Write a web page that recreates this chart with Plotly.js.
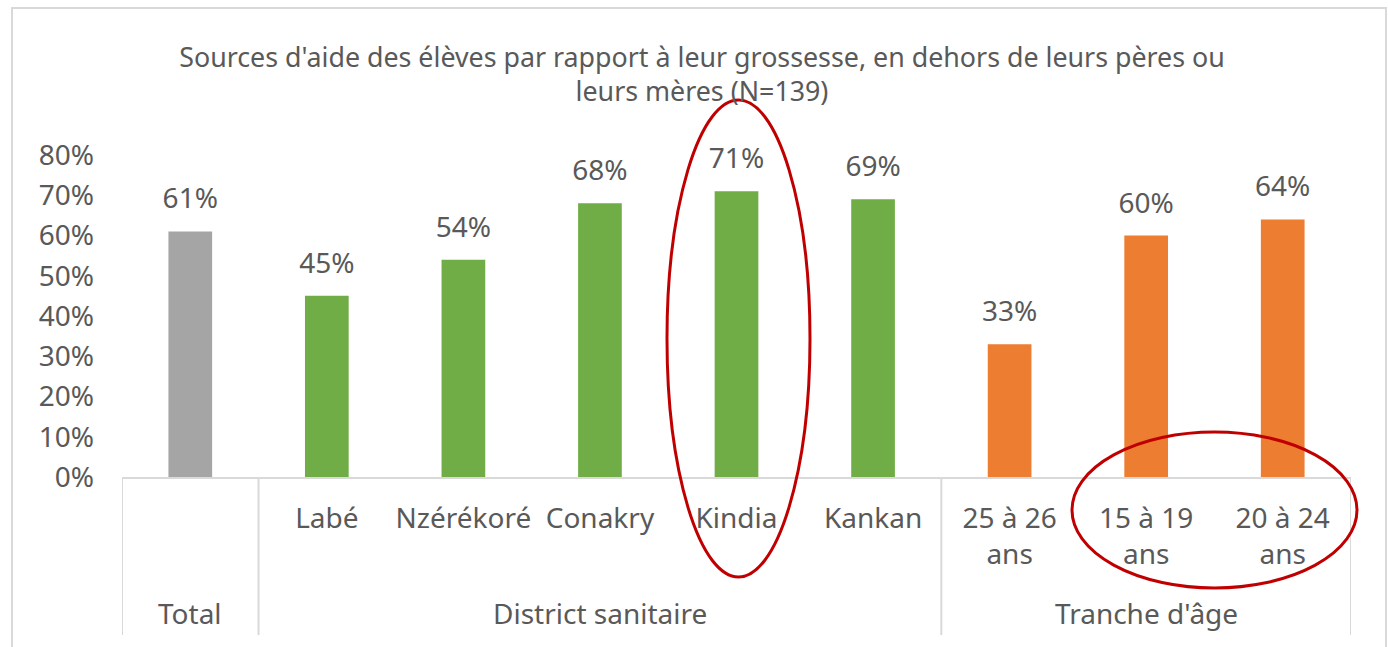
<!DOCTYPE html>
<html>
<head>
<meta charset="utf-8">
<script src="https://cdn.plot.ly/plotly-3.0.1.min.js"></script>
<style>
  html, body { margin: 0; padding: 0; background: #ffffff; }
  #chart { width: 1388px; height: 647px; }
</style>
</head>
<body>
<div id="chart"></div>
<script>
const categories = ["Total", "Labé", "Nzérékoré", "Conakry", "Kindia", "Kankan", "25 à 26<br>ans", "15 à 19<br>ans", "20 à 24<br>ans"];
const values = [61, 45, 54, 68, 71, 69, 33, 60, 64];
const barColors = ["#A5A5A5", "#70AD47", "#70AD47", "#70AD47", "#70AD47", "#70AD47", "#ED7D31", "#ED7D31", "#ED7D31"];
const groupNames = ["Total", "District sanitaire", "Tranche d'âge"];
const groupCenters = ["Total", "Conakry", "15 à 19<br>ans"];
const groupBounds = [-0.5, 0.5, 5.5, 8.5];
const yTicks = [0, 10, 20, 30, 40, 50, 60, 70, 80];
const titleText = "Sources d'aide des élèves par rapport à leur grossesse, en dehors de leurs pères ou<br>leurs mères (N=139)";

const FONT = "'Noto Sans', 'Open Sans', sans-serif";
const TXT = "#595959";
const GRID = "#D9D9D9";
const FS = 28;

// pixel helpers for paper coords (plot area 122..1351 x, 155..477 y)
const px = x => (x - 122) / 1229;
const py = y => (477 - y) / 322;

const bars = {
  type: "bar",
  x: categories,
  y: values,
  marker: { color: barColors },
  width: 0.32,
  hoverinfo: "none"
};

const labels = {
  type: "scatter",
  mode: "markers+text",
  x: categories,
  y: values,
  text: values.map(v => v + "%"),
  textposition: "top center",
  textfont: { family: FONT, size: FS, color: TXT },
  marker: { size: 24, opacity: 0 },
  cliponaxis: false,
  hoverinfo: "none"
};

const annotations = groupNames.map((g, i) => ({
  text: g,
  xref: "x", yref: "paper",
  x: groupCenters[i], y: py(613),
  xanchor: "center", yanchor: "middle",
  showarrow: false,
  font: { family: FONT, size: FS, color: TXT }
}));

const dividers = groupBounds.map(b => ({
  type: "line", xref: "x", yref: "paper",
  x0: b, x1: b, y0: 0, y1: py(635),
  line: { color: GRID, width: 2 }
}));

const layout = {
  width: 1388,
  height: 647,
  margin: { l: 122, r: 37, t: 155, b: 170 },
  paper_bgcolor: "#ffffff",
  plot_bgcolor: "#ffffff",
  showlegend: false,
  title: {
    text: titleText,
    font: { family: FONT, size: 26.8, color: TXT },
    x: 702 / 1388, xref: "container", xanchor: "center",
    y: 0.897, yref: "container", yanchor: "top"
  },
  xaxis: {
    type: "category",
    categoryorder: "array",
    categoryarray: categories,
    tickvals: categories,
    ticktext: categories.map((c, i) => i === 0 ? "" : c),
    range: [-0.5, 8.5],
    showline: true,
    linecolor: GRID,
    linewidth: 2,
    ticks: "",
    ticklabelstandoff: 15,
    tickfont: { family: FONT, size: FS, color: TXT },
    automargin: false,
    showgrid: false,
    zeroline: false
  },
  yaxis: {
    range: [0, 80],
    tickvals: yTicks,
    ticktext: yTicks.map(v => v + "%"),
    showgrid: false,
    zeroline: false,
    showline: false,
    ticks: "",
    ticklabelstandoff: 27,
    tickfont: { family: FONT, size: FS, color: TXT },
    automargin: false
  },
  annotations: annotations,
  shapes: [
    { type: "rect", xref: "paper", yref: "paper",
      x0: px(12), x1: px(1386), y0: py(670), y1: py(8),
      line: { color: GRID, width: 2 }, fillcolor: "rgba(0,0,0,0)", layer: "below" },
    ...dividers,
    { type: "circle", xref: "paper", yref: "paper",
      x0: px(667), x1: px(810), y0: py(577), y1: py(100),
      line: { color: "#C00000", width: 3 } },
    { type: "circle", xref: "paper", yref: "paper",
      x0: px(1072), x1: px(1357), y0: py(588), y1: py(432),
      line: { color: "#C00000", width: 3 } }
  ]
};

Plotly.newPlot("chart", [bars, labels], layout, { displayModeBar: false, staticPlot: true });
</script>
</body>
</html>
